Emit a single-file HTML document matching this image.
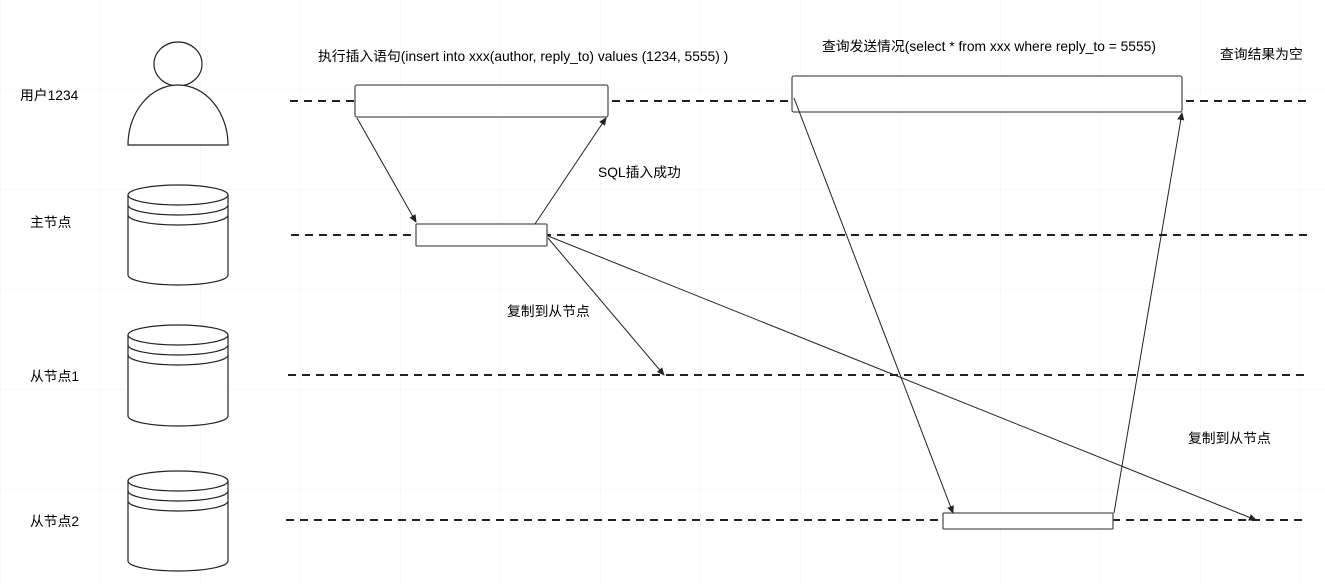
<!DOCTYPE html>
<html><head><meta charset="utf-8"><style>
html,body{margin:0;padding:0;background:#fff;}
svg{display:block;}
text{font-family:"Liberation Sans","Noto Sans CJK SC",sans-serif;font-size:13.8px;fill:#000;}
</style></head><body>
<svg width="1325" height="584" xmlns="http://www.w3.org/2000/svg">
<defs>
<pattern id="g" width="100" height="100" patternUnits="userSpaceOnUse" x="0" y="-11">
<path d="M0 0H100M0 0V100" stroke="#f0f0f0" stroke-width="1" fill="none"/>
</pattern>
<marker id="a" markerWidth="8" markerHeight="8" refX="7" refY="4" orient="auto" markerUnits="userSpaceOnUse">
<path d="M0,0.5 L8,4 L0,7.5 Z" fill="#222"/>
</marker>
</defs>
<rect width="1325" height="584" fill="url(#g)"/>
<text x="20" y="100">用户1234</text>
<text x="30" y="227">主节点</text>
<text x="30" y="381">从节点1</text>
<text x="30" y="526">从节点2</text>
<g fill="#fff" stroke="#222" stroke-width="1.2">
<ellipse cx="178" cy="64" rx="24" ry="22"/>
<path d="M128 145 A50 60 0 0 1 228 145 Z"/>
</g>
<g fill="#fff" stroke="#222" stroke-width="1.2">
<g transform="translate(0,185)">
<path d="M128 10 A50 10 0 0 1 228 10 V90 A50 10 0 0 1 128 90 Z"/>
<path d="M128 10 A50 10 0 0 0 228 10 M128 20 A50 10 0 0 0 228 20 M128 30 A50 10 0 0 0 228 30" fill="none"/>
</g>
<g transform="translate(0,325)">
<path d="M128 10 A50 10 0 0 1 228 10 V91 A50 10 0 0 1 128 91 Z"/>
<path d="M128 10 A50 10 0 0 0 228 10 M128 20 A50 10 0 0 0 228 20 M128 30 A50 10 0 0 0 228 30" fill="none"/>
</g>
<g transform="translate(0,471)">
<path d="M128 10 A50 10 0 0 1 228 10 V90 A50 10 0 0 1 128 90 Z"/>
<path d="M128 10 A50 10 0 0 0 228 10 M128 20 A50 10 0 0 0 228 20 M128 30 A50 10 0 0 0 228 30" fill="none"/>
</g>
</g>
<g stroke="#222" stroke-width="2" stroke-dasharray="8,6">
<line x1="290" y1="101" x2="1307" y2="101"/>
<line x1="291" y1="235" x2="1307" y2="235"/>
<line x1="288" y1="375" x2="1305" y2="375"/>
<line x1="286" y1="520" x2="1302" y2="520"/>
</g>
<g fill="#fff" stroke="#555" stroke-width="1.3">
<rect x="355" y="85" width="253" height="32" rx="2"/>
<rect x="416" y="224" width="131" height="22" rx="1"/>
<rect x="792" y="76" width="390" height="36" rx="2"/>
<rect x="943" y="513" width="170" height="16" rx="1"/>
</g>
<g stroke="#222" stroke-width="1" fill="none" marker-end="url(#a)">
<line x1="357" y1="118" x2="416" y2="222"/>
<line x1="535" y1="224" x2="606" y2="118"/>
<line x1="548" y1="238" x2="664" y2="375"/>
<line x1="548" y1="236" x2="1256" y2="520"/>
<line x1="794" y1="98" x2="953" y2="513"/>
<line x1="1114" y1="513" x2="1182" y2="113"/>
</g>
<text x="318" y="61">执行插入语句(insert into xxx(author, reply_to) values (1234, 5555) )</text>
<text x="598" y="177">SQL插入成功</text>
<text x="507" y="316">复制到从节点</text>
<text x="822" y="51">查询发送情况(select * from xxx where reply_to = 5555)</text>
<text x="1220" y="59">查询结果为空</text>
<text x="1188" y="443">复制到从节点</text>
</svg>
</body></html>
